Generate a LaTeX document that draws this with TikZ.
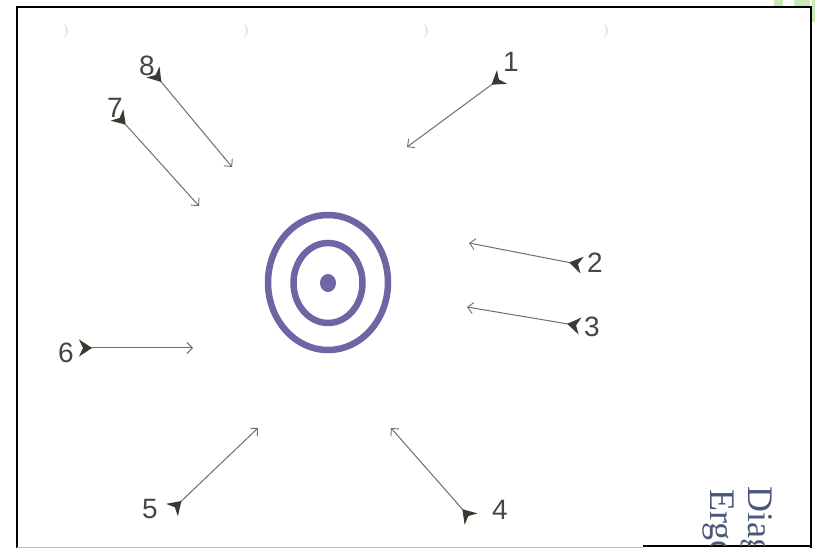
\documentclass[tikz,border=0pt]{standalone}
\usepackage{fontspec}
\setmainfont{Liberation Serif}
\newfontfamily\digitfont{Liberation Sans}
\usetikzlibrary{arrows.meta}
\definecolor{ringcol}{RGB}{112,100,164}
\definecolor{linegray}{RGB}{110,110,110}
\definecolor{fletchcol}{RGB}{58,58,48}
\definecolor{labelgray}{RGB}{70,70,70}
\definecolor{sidetext}{RGB}{74,88,120}
\definecolor{greenbit}{RGB}{200,232,180}
\tikzset{
  arrowline/.style={draw=linegray, line width=1pt,
    arrows={Stealth[reversed,length=13pt,width=17pt,inset=4pt,color=fletchcol,fill=fletchcol]-Straight Barb[length=5.5pt,width=11pt,line width=0.9pt]}},
  numlabel/.style={font=\digitfont\fontsize{28}{28}\selectfont, text=labelgray, inner sep=0pt},
  ring/.style={draw=ringcol, line width=6.5pt},
  faint/.style={text=black!15, font=\fontsize{14}{14}\selectfont, inner sep=0pt},
  sidelabel/.style={font=\fontsize{36}{36}\selectfont, text=sidetext, rotate=-90, anchor=base west, inner sep=0pt}
}
\begin{document}
\begin{tikzpicture}[x=1pt,y=-1pt]
\useasboundingbox (0,0) rectangle (815,548);
\fill[white] (0,0) rectangle (815,548);
% green bits top right
\fill[greenbit] (774,0) rectangle (783,6);
\fill[greenbit] (794,0) rectangle (810,6);
\fill[greenbit] (812,0) rectangle (815,22);
% frame
\draw[black, line width=2.5pt] (17,548) -- (17,7) -- (811,7) -- (811,548);
\draw[black!25, line width=0.8pt] (17,547) -- (643,547);
\draw[black, line width=2pt] (643,546) -- (811,546);
% faint marks
\node[faint] (f1) at (66,31) {)};
\node[faint] (f2) at (246,31) {)};
\node[faint] (f3) at (426,31) {)};
\node[faint] (f4) at (606,31) {)};
% target
\draw[ring] (328,282.5) ellipse [x radius=60, y radius=67.5];
\draw[ring] (328,283) ellipse [x radius=34.5, y radius=40];
\fill[ringcol] (328,283) ellipse [x radius=8, y radius=9];
\node[inner sep=0pt, minimum size=0pt] (target) at (328,283) {};
% arrow coordinates
\coordinate (t1) at (502,77);   \coordinate (h1) at (407,147);
\coordinate (t2) at (582,265);  \coordinate (h2) at (469,243);
\coordinate (t3) at (580,326);  \coordinate (h3) at (467,307);
\coordinate (t4) at (471,519);  \coordinate (h4) at (391,428);
\coordinate (t5) at (172,510);  \coordinate (h5) at (258,428);
\coordinate (t6) at (79,348);   \coordinate (h6) at (193,348);
\coordinate (t7) at (117,115);  \coordinate (h7) at (199,206);
\coordinate (t8) at (153,72);   \coordinate (h8) at (232,167);
\foreach \i in {1,...,8} { \draw[arrowline] (t\i) -- (h\i); }
% labels
\node[numlabel] (l1) at (511,62) {1};
\node[numlabel] (l2) at (595,263) {2};
\node[numlabel] (l3) at (592,327) {3};
\node[numlabel] (l4) at (500,510) {4};
\node[numlabel] (l5) at (150,509) {5};
\node[numlabel] (l6) at (66,353) {6};
\node[numlabel] (l7) at (115,108) {7};
\node[numlabel] (l8) at (147,66) {8};
% side text, clipped at the bottom
\begin{scope}
\clip (643,470) rectangle (811,545);
\node[sidelabel] (s1) at (748,486) {Diagram};
\node[sidelabel] (s2) at (710,489) {Ergonomics};
\end{scope}
\end{tikzpicture}
\end{document}
